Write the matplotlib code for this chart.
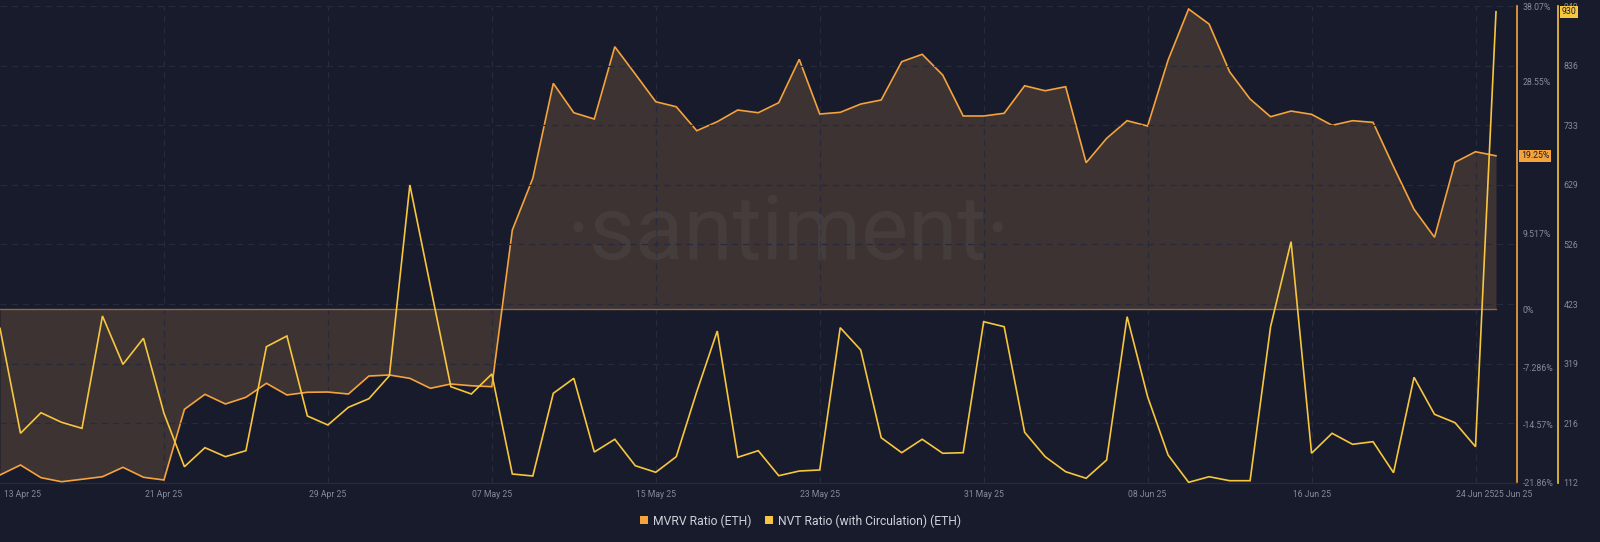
import matplotlib
matplotlib.use("Agg")
import matplotlib.pyplot as plt
import matplotlib.dates as mdates
import matplotlib.transforms as mtransforms
from matplotlib.lines import Line2D
import pandas as pd
import numpy as np

# ---------------- data ----------------
start_date = "2025-04-13"
mvrv = [-20.85, -19.60, -21.19, -21.70, -21.39, -21.07, -19.89, -21.14, -21.48, -12.60,
        -10.72, -11.93, -11.09, -9.33, -10.80, -10.46, -10.43, -10.68, -8.42, -8.29,
        -8.71, -9.96, -9.42, -9.64, -9.76, 9.92, 16.42, 28.35, 24.66, 23.87,
        32.95, 29.52, 26.04, 25.41, 22.40, 23.53, 25.00, 24.66, 25.92, 31.37,
        24.50, 24.71, 25.75, 26.26, 31.07, 32.00, 29.40, 24.25, 24.25, 24.59,
        28.05, 27.42, 27.93, 18.38, 21.44, 23.66, 22.99, 31.28, 37.69, 35.80,
        29.81, 26.38, 24.16, 24.87, 24.46, 23.08, 23.66, 23.45, 17.88, 12.53,
        9.01, 18.43, 19.76, 19.25]
nvt = [380.5, 198.3, 234.0, 217.4, 206.9, 401.9, 318.0, 363.2, 233.0, 140.3,
       173.3, 157.7, 168.1, 348.6, 367.2, 228.3, 212.7, 243.4, 258.3, 298.2,
       629.3, 454.0, 279.2, 266.5, 301.2, 127.6, 124.2, 267.7, 293.7, 165.8,
       187.9, 142.0, 130.6, 157.7, 270.5, 375.8, 156.6, 168.1, 124.7, 132.8,
       134.6, 381.6, 342.9, 190.6, 164.6, 187.9, 163.6, 164.6, 392.0, 383.3,
       200.0, 157.7, 131.6, 120.2, 151.9, 400.7, 261.8, 160.6, 113.2, 122.9,
       116.0, 116.0, 383.3, 530.9, 163.6, 198.3, 179.2, 183.7, 129.9, 295.5,
       231.2, 216.7, 175.0, 930.0]

x_tick_dates = ["2025-04-21", "2025-04-29", "2025-05-07", "2025-05-15", "2025-05-23",
                "2025-05-31", "2025-06-08", "2025-06-16", "2025-06-24"]
x_tick_labels = ["21 Apr 25", "29 Apr 25", "07 May 25", "15 May 25", "23 May 25",
                 "31 May 25", "08 Jun 25", "16 Jun 25", "24 Jun 25"]
first_label = "13 Apr 25"
last_label = "25 Jun 25"

pct_ticks = [-21.86, -14.57, -7.286, 0, 9.517, 28.55, 38.07]
pct_labels = ["-21.86%", "-14.57%", "-7.286%", "0%", "9.517%", "28.55%", "38.07%"]
nvt_ticks = [112, 215.5, 319, 422.5, 526, 629.5, 733, 836.5, 940]
nvt_labels = ["112", "216", "319", "423", "526", "629", "733", "836", "940"]

mvrv_name = "MVRV Ratio (ETH)"
nvt_name = "NVT Ratio (with Circulation) (ETH)"
mvrv_last_label = "19.25%"
nvt_last_label = "930"

# ---------------- style ----------------
BG = "#181b2b"
FILL = "#3c3332"
ORANGE = "#f5a33c"
YELLOW = "#f7c63f"
GRID = "#262a3b"
TICK = "#858a9b"
plt.rcParams["font.family"] = ["Roboto", "DejaVu Sans"]

W, H = 1600, 542
fig = plt.figure(figsize=(W / 100, H / 100), dpi=100, facecolor=BG)
ax = fig.add_axes([0, 59 / H, 1517 / W, 477 / H])
ax.set_facecolor(BG)
ax2 = ax.twinx()
ax2.patch.set_visible(False)

dates = pd.date_range(start_date, periods=len(mvrv), freq="D")
xnum = mdates.date2num(dates)
px_per_day = 1496 / (len(mvrv) - 1)
ax.set_xlim(xnum[0], xnum[0] + 1517 / px_per_day)

mv = np.array(mvrv)
ax.fill_between(xnum, mv, 0, color=FILL, linewidth=0, zorder=1)
ax.plot(xnum, np.zeros_like(mv), color="#8b6a44", lw=1.0, zorder=1.7)
ax.plot(xnum, mv, color=ORANGE, lw=1.2, zorder=3, solid_joinstyle="miter")
ax.set_ylim(-21.86, 38.07)

ax2.plot(xnum, nvt, color=YELLOW, lw=1.2, zorder=3, solid_joinstyle="miter")
ax2.set_ylim(112, 940)

# watermark
ax.text(788 / 1517, (483 - 235) / 477, "\u00b7santiment\u00b7", transform=ax.transAxes,
        ha="center", va="center", fontsize=64, fontweight="normal",
        color="#ffffff", alpha=0.05, zorder=1.6)

# x axis
tick_nums = mdates.date2num(pd.to_datetime(x_tick_dates))
ax.set_xticks(tick_nums)
ax.set_xticklabels(x_tick_labels)
ax.tick_params(axis="x", length=0, pad=5, labelsize=6.2, labelcolor=TICK)
ax.xaxis.grid(True, color=GRID, lw=0.9, ls=(0, (5, 4)))
trans_x = mtransforms.blended_transform_factory(ax.transData, ax.transAxes)
ax.annotate(first_label, xy=(xnum[0], 0), xycoords=trans_x, xytext=(3, -5),
            textcoords="offset points", ha="left", va="top", fontsize=6.2, color=TICK)
ax.annotate(last_label, xy=(xnum[-1], 0), xycoords=trans_x, xytext=(-1.5, -5),
            textcoords="offset points", ha="left", va="top", fontsize=6.2, color=TICK)

# y axes
ax.yaxis.tick_right()
ax.set_yticks(pct_ticks)
ax.set_yticklabels(pct_labels)
ax.tick_params(axis="y", length=0, pad=4, labelsize=6.3, labelcolor=TICK)

ax2.set_yticks(nvt_ticks)
ax2.set_yticklabels(nvt_labels)
ax2.tick_params(axis="y", length=0, pad=4, labelsize=6.3, labelcolor=TICK)
ax2.yaxis.grid(True, color=GRID, lw=0.9, ls=(0, (5, 4)))
ax2.set_axisbelow(True)

for s in ["top", "left"]:
    ax.spines[s].set_visible(False)
    ax2.spines[s].set_visible(False)
ax2.spines["bottom"].set_visible(False)
ax.spines["bottom"].set_color(GRID)
ax.spines["bottom"].set_linewidth(1.0)
ax.spines["right"].set_color(ORANGE)
ax.spines["right"].set_linewidth(1.2)
ax2.spines["right"].set_position(("axes", 1558 / 1517))
ax2.spines["right"].set_color(YELLOW)
ax2.spines["right"].set_linewidth(1.2)

# last value boxes
t1 = mtransforms.blended_transform_factory(ax.transAxes, ax.transData)
ax.text(1521 / 1517, mvrv[-1], mvrv_last_label, transform=t1, ha="left", va="center",
        fontsize=6.3, color="#1a1c2a", zorder=10, clip_on=False,
        bbox=dict(boxstyle="square,pad=0.18", fc=ORANGE, ec="none"))
t2 = mtransforms.blended_transform_factory(ax2.transAxes, ax2.transData)
ax2.text(1562 / 1517, nvt[-1], nvt_last_label, transform=t2, ha="left", va="center",
         fontsize=6.3, color="#1a1c2a", zorder=10, clip_on=False,
         bbox=dict(boxstyle="square,pad=0.18", fc=YELLOW, ec="none"))

# legend
handles = [Line2D([], [], marker="s", ls="none", markersize=6, markerfacecolor=ORANGE,
                  markeredgewidth=0, label=mvrv_name),
           Line2D([], [], marker="s", ls="none", markersize=6, markerfacecolor=YELLOW,
                  markeredgewidth=0, label=nvt_name)]
leg = fig.legend(handles=handles, loc="center", bbox_to_anchor=(0.5, 1 - 521 / H), ncol=2,
                 frameon=False, fontsize=8.7, handlelength=0.8, handletextpad=0.3,
                 columnspacing=1.1, labelcolor="#cfd2db")

fig.savefig("out.png", dpi=100, facecolor=BG)
